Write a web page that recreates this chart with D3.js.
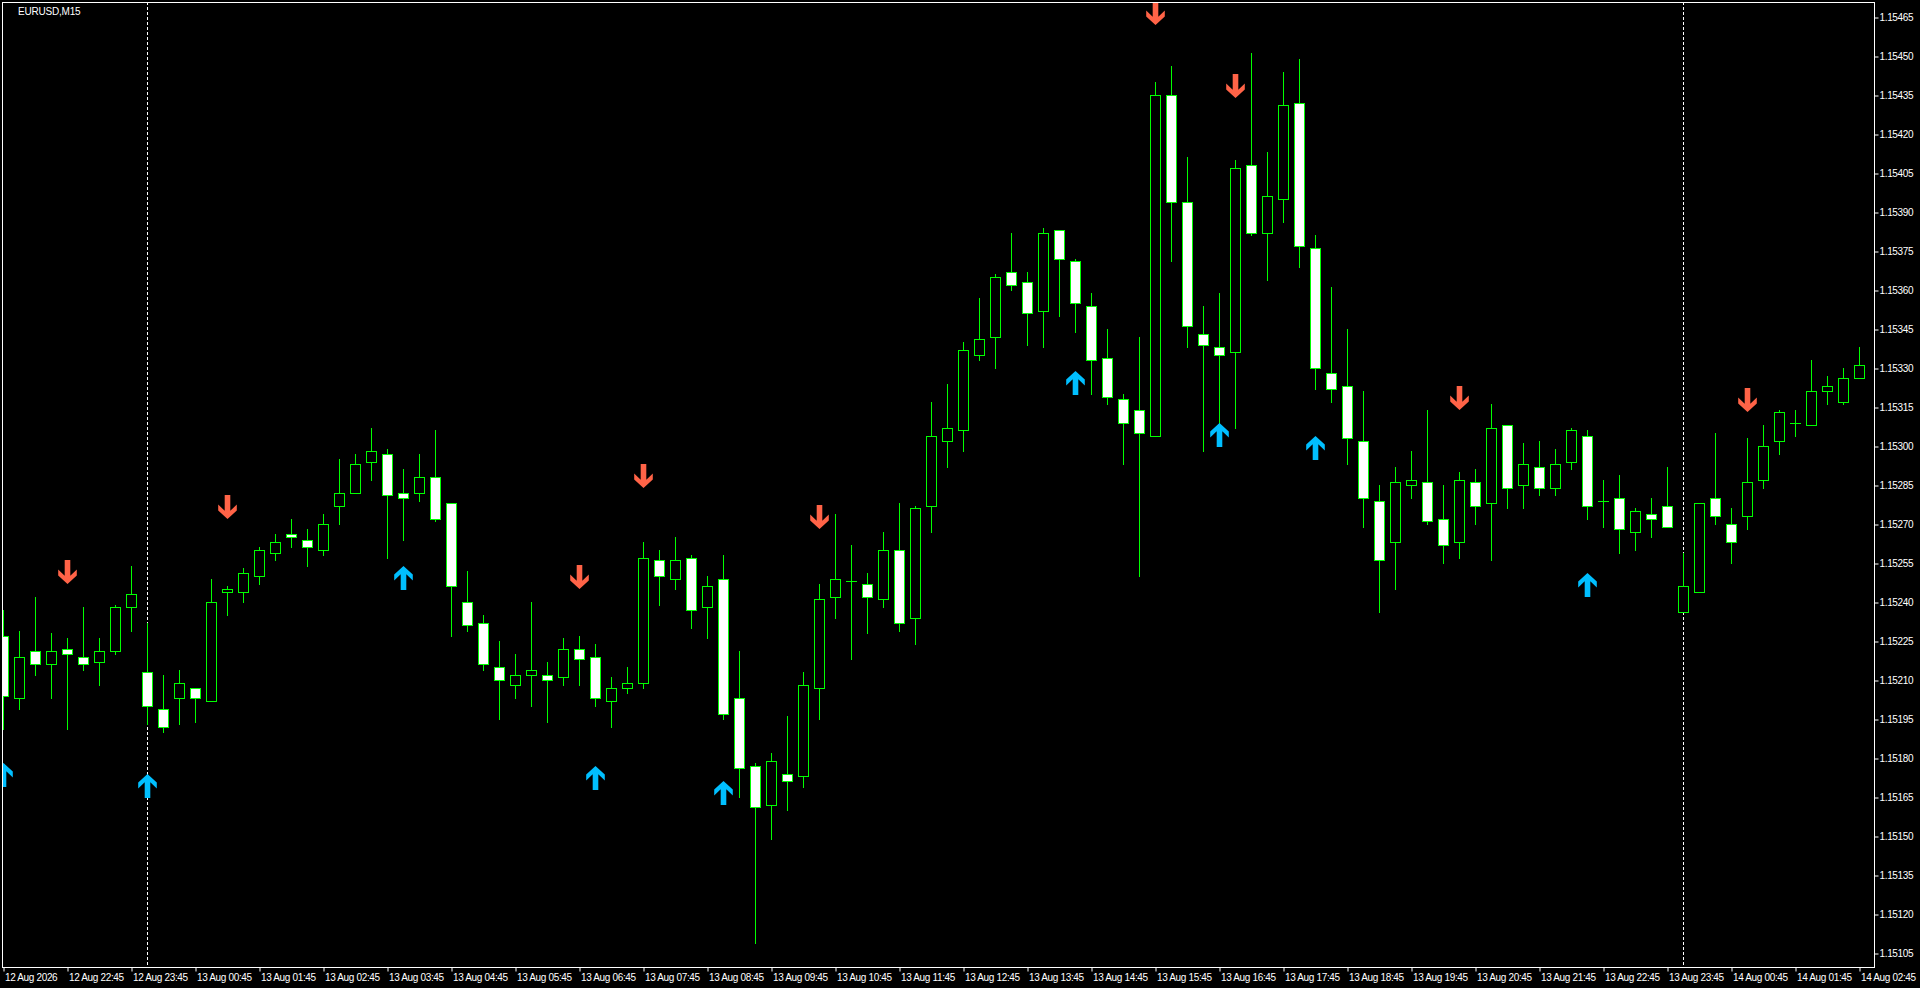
<!DOCTYPE html>
<html><head><meta charset="utf-8">
<script src="https://cdn.jsdelivr.net/npm/d3@7"></script>
<style>html,body{margin:0;padding:0;background:#000;overflow:hidden}</style>
</head><body>
<svg id="c" width="1920" height="988"></svg>
<script>
const symbolTitle = "EURUSD,M15";
const opens = [1.15227,1.15203,1.15221,1.15216,1.15222,1.15219,1.15217,1.15221,1.15238,1.15213,
1.15199,1.15203,1.15207,1.15202,1.15244,1.15244,1.15250,1.15259,1.15266,1.15264,
1.15260,1.15277,1.15282,1.15294,1.15297,1.15282,1.15282,1.15288,1.15278,1.15240,
1.15232,1.15215,1.15208,1.15212,1.15212,1.15211,1.15222,1.15219,1.15202,1.15207,
1.15209,1.15256,1.15249,1.15257,1.15238,1.15249,1.15203,1.15177,1.15162,1.15174,
1.15173,1.15207,1.15242,1.15248,1.15247,1.15241,1.15260,1.15234,1.15277,1.15302,
1.15306,1.15335,1.15342,1.15367,1.15363,1.15352,1.15383,1.15371,1.15354,1.15334,
1.15318,1.15314,1.15304,1.15435,1.15394,1.15343,1.15338,1.15336,1.15408,1.15382,
1.15395,1.15432,1.15376,1.15328,1.15323,1.15302,1.15279,1.15263,1.15285,1.15286,
1.15272,1.15263,1.15286,1.15278,1.15308,1.15285,1.15292,1.15284,1.15294,1.15304,
1.15279,1.15280,1.15267,1.15274,1.15277,1.15236,1.15244,1.15280,1.15270,1.15273,
1.15287,1.15302,1.15309,1.15308,1.15321,1.15317,1.15326];
const highs = [1.15237,1.15229,1.15242,1.15228,1.15226,1.15238,1.15226,1.15239,1.15254,1.15232,
1.15212,1.15214,1.15207,1.15249,1.15246,1.15253,1.15261,1.15266,1.15272,1.15268,
1.15274,1.15295,1.15297,1.15307,1.15299,1.15291,1.15297,1.15306,1.15278,1.15252,
1.15235,1.15225,1.15220,1.15240,1.15217,1.15226,1.15227,1.15224,1.15211,1.15215,
1.15263,1.15260,1.15265,1.15258,1.15250,1.15258,1.15221,1.15178,1.15182,1.15196,
1.15213,1.15247,1.15274,1.15262,1.15251,1.15267,1.15278,1.15277,1.15317,1.15324,
1.15340,1.15357,1.15366,1.15382,1.15367,1.15384,1.15383,1.15372,1.15359,1.15345,
1.15320,1.15342,1.15440,1.15446,1.15411,1.15354,1.15359,1.15410,1.15451,1.15413,
1.15444,1.15449,1.15381,1.15361,1.15345,1.15321,1.15285,1.15292,1.15298,1.15314,
1.15285,1.15290,1.15291,1.15316,1.15308,1.15301,1.15302,1.15299,1.15307,1.15306,
1.15287,1.15289,1.15276,1.15280,1.15292,1.15259,1.15278,1.15305,1.15276,1.15303,
1.15308,1.15314,1.15314,1.15333,1.15327,1.15330,1.15338];
const lows = [1.15191,1.15199,1.15212,1.15203,1.15191,1.15214,1.15208,1.15220,1.15229,1.15193,
1.15190,1.15193,1.15194,1.15202,1.15235,1.15240,1.15247,1.15256,1.15261,1.15254,
1.15258,1.15270,1.15282,1.15287,1.15257,1.15264,1.15279,1.15271,1.15227,1.15229,
1.15214,1.15195,1.15203,1.15200,1.15194,1.15208,1.15208,1.15200,1.15192,1.15205,
1.15207,1.15239,1.15245,1.15230,1.15226,1.15195,1.15165,1.15109,1.15149,1.15160,
1.15169,1.15195,1.15234,1.15218,1.15228,1.15238,1.15229,1.15224,1.15267,1.15292,
1.15298,1.15333,1.15330,1.15360,1.15339,1.15338,1.15350,1.15344,1.15320,1.15316,
1.15293,1.15250,1.15304,1.15371,1.15338,1.15298,1.15309,1.15307,1.15381,1.15364,
1.15386,1.15369,1.15322,1.15317,1.15293,1.15269,1.15236,1.15245,1.15280,1.15270,
1.15255,1.15257,1.15270,1.15256,1.15276,1.15276,1.15281,1.15281,1.15291,1.15272,
1.15269,1.15259,1.15260,1.15265,1.15269,1.15236,1.15244,1.15270,1.15255,1.15268,
1.15284,1.15297,1.15304,1.15308,1.15316,1.15316,1.15326];
const closes = [1.15204,1.15219,1.15216,1.15221,1.15220,1.15216,1.15221,1.15238,1.15243,1.15200,
1.15192,1.15209,1.15203,1.15240,1.15245,1.15251,1.15260,1.15263,1.15265,1.15261,
1.15270,1.15282,1.15293,1.15298,1.15281,1.15280,1.15288,1.15272,1.15246,1.15231,
1.15216,1.15210,1.15212,1.15214,1.15210,1.15222,1.15218,1.15203,1.15207,1.15209,
1.15257,1.15250,1.15256,1.15237,1.15246,1.15197,1.15176,1.15161,1.15179,1.15171,
1.15208,1.15241,1.15249,1.15248,1.15242,1.15260,1.15232,1.15276,1.15304,1.15307,
1.15337,1.15341,1.15365,1.15362,1.15351,1.15382,1.15372,1.15355,1.15333,1.15319,
1.15309,1.15305,1.15435,1.15394,1.15346,1.15339,1.15335,1.15407,1.15382,1.15396,
1.15431,1.15377,1.15330,1.15322,1.15303,1.15280,1.15256,1.15286,1.15287,1.15271,
1.15262,1.15287,1.15277,1.15307,1.15284,1.15293,1.15284,1.15293,1.15306,1.15277,
1.15279,1.15268,1.15275,1.15272,1.15269,1.15246,1.15278,1.15273,1.15263,1.15286,
1.15300,1.15313,1.15309,1.15321,1.15323,1.15326,1.15331];

const upArrowBars   = [0, 9, 25, 37, 45, 67, 76, 82, 99];
const upArrowPrices = [1.15178,1.15174,1.15254,1.15177,1.15171,1.15329,1.15309,1.15304,1.15251];
const downArrowBars   = [4, 14, 36, 40, 51, 72, 77, 91, 109];
const downArrowPrices = [1.15247,1.15272,1.15245,1.15284,1.15268,1.15462,1.15434,1.15314,1.15313];

const separatorBars = [9, 105];

const timeTickBars = [0,4,8,12,16,20,24,28,32,36,40,44,48,52,56,60,64,68,72,76,80,84,88,92,96,100,104,108,112,116];
const timeTickLabels = ["12 Aug 2026","12 Aug 22:45","12 Aug 23:45","13 Aug 00:45","13 Aug 01:45","13 Aug 02:45",
"13 Aug 03:45","13 Aug 04:45","13 Aug 05:45","13 Aug 06:45","13 Aug 07:45","13 Aug 08:45","13 Aug 09:45",
"13 Aug 10:45","13 Aug 11:45","13 Aug 12:45","13 Aug 13:45","13 Aug 14:45","13 Aug 15:45","13 Aug 16:45",
"13 Aug 17:45","13 Aug 18:45","13 Aug 19:45","13 Aug 20:45","13 Aug 21:45","13 Aug 22:45","13 Aug 23:45",
"14 Aug 00:45","14 Aug 01:45","14 Aug 02:45"];

const priceTicks = [1.15105,1.15120,1.15135,1.15150,1.15165,1.15180,1.15195,1.15210,1.15225,1.15240,
1.15255,1.15270,1.15285,1.15300,1.15315,1.15330,1.15345,1.15360,1.15375,1.15390,1.15405,1.15420,
1.15435,1.15450,1.15465];

// ---------- layout ----------
const L = 2, T = 2, R = 1874, B = 967;
const svg = d3.select("#c");
const FONT = "'Liberation Sans', Arial, sans-serif";
const bars = opens.map((o,i)=>({i, o, h:highs[i], l:lows[i], c:closes[i]}));

const x = d3.scaleLinear().domain([0, bars.length-1]).range([3, 1859]);
const y = d3.scaleLinear().domain([1.15105, 1.15465]).range([953, 17]);

svg.append("rect").attr("width",1920).attr("height",988).attr("fill","#000");

const defs = svg.append("defs");
defs.append("clipPath").attr("id","plot").append("rect")
  .attr("x",L+1).attr("y",T+1).attr("width",R-L-1).attr("height",B-T-1);

const plot = svg.append("g").attr("clip-path","url(#plot)");

// period separators
plot.selectAll("line.sep").data(separatorBars).join("line")
  .attr("class","sep")
  .attr("x1",d=>Math.round(x(d))+0.5).attr("x2",d=>Math.round(x(d))+0.5)
  .attr("y1",T).attr("y2",B)
  .attr("stroke","#fff").attr("stroke-width",1).attr("stroke-dasharray","3,2");

// wicks
plot.selectAll("line.wick").data(bars).join("line")
  .attr("class","wick")
  .attr("x1",d=>Math.round(x(d.i))+0.5).attr("x2",d=>Math.round(x(d.i))+0.5)
  .attr("y1",d=>Math.round(y(d.h))).attr("y2",d=>Math.round(y(d.l))+1)
  .attr("stroke","#00ff00").attr("stroke-width",1);

// bodies
bars.forEach(d=>{
  const cx = Math.round(x(d.i));
  const yt = Math.round(y(Math.max(d.o,d.c)));
  const yb = Math.round(y(Math.min(d.o,d.c)));
  if (yb - yt < 1) {
    plot.append("line").attr("x1",cx-5).attr("x2",cx+6)
      .attr("y1",yt+0.5).attr("y2",yt+0.5)
      .attr("stroke","#00ff00").attr("stroke-width",1);
  } else {
    plot.append("rect").attr("x",cx-4.5).attr("y",yt+0.5)
      .attr("width",10).attr("height",yb-yt)
      .attr("fill", d.c >= d.o ? "#000" : "#fff")
      .attr("stroke","#00ff00").attr("stroke-width",1);
  }
});

// arrows
const upPath = "M0,0 L9.3,8.5 L9.3,14.5 L2.8,8.2 L2.8,24 L-2.8,24 L-2.8,8.2 L-9.3,14.5 L-9.3,8.5 Z";
plot.selectAll("path.up").data(upArrowBars).join("path")
  .attr("class","up").attr("d",upPath)
  .attr("transform",(d,k)=>`translate(${Math.round(x(d))+0.5},${Math.round(y(upArrowPrices[k]))})`)
  .attr("fill","#00bfff");
plot.selectAll("path.dn").data(downArrowBars).join("path")
  .attr("class","dn").attr("d",upPath)
  .attr("transform",(d,k)=>`translate(${Math.round(x(d))+0.5},${Math.round(y(downArrowPrices[k]))}) scale(1,-1)`)
  .attr("fill","#ff6347");

// frame
svg.append("rect").attr("x",L+0.5).attr("y",T+0.5).attr("width",R-L).attr("height",B-T)
  .attr("fill","none").attr("stroke","#fff").attr("stroke-width",1);

// price axis
const yAxis = d3.axisRight(y).tickValues(priceTicks).tickSize(4).tickSizeOuter(0)
  .tickFormat(d3.format(".5f"));
const ya = svg.append("g").attr("transform",`translate(${R+0.5},0.5)`).call(yAxis);
ya.select(".domain").remove();
ya.selectAll(".tick line").attr("stroke","#fff");
ya.selectAll(".tick text").attr("fill","#fff").attr("x",5).attr("dy","0.34em")
  .style("font-family",FONT).style("font-size","10px").style("letter-spacing","-0.35px");

// time axis
const xAxis = d3.axisBottom(x).tickValues(timeTickBars).tickSize(4).tickSizeOuter(0)
  .tickFormat((d,k)=>timeTickLabels[k]);
const xa = svg.append("g").attr("transform",`translate(0.5,${B+0.5})`).call(xAxis);
xa.select(".domain").remove();
xa.selectAll(".tick line").attr("stroke","#fff");
xa.selectAll(".tick text").attr("fill","#fff").attr("text-anchor","start")
  .attr("x",1).attr("y",13).attr("dy",0)
  .style("font-family",FONT).style("font-size","10px").style("letter-spacing","-0.35px");

// title
svg.append("text").attr("x",18).attr("y",15).text(symbolTitle)
  .attr("fill","#fff").style("font-family",FONT).style("font-size","10px").style("letter-spacing","-0.2px");
</script>
</body></html>
